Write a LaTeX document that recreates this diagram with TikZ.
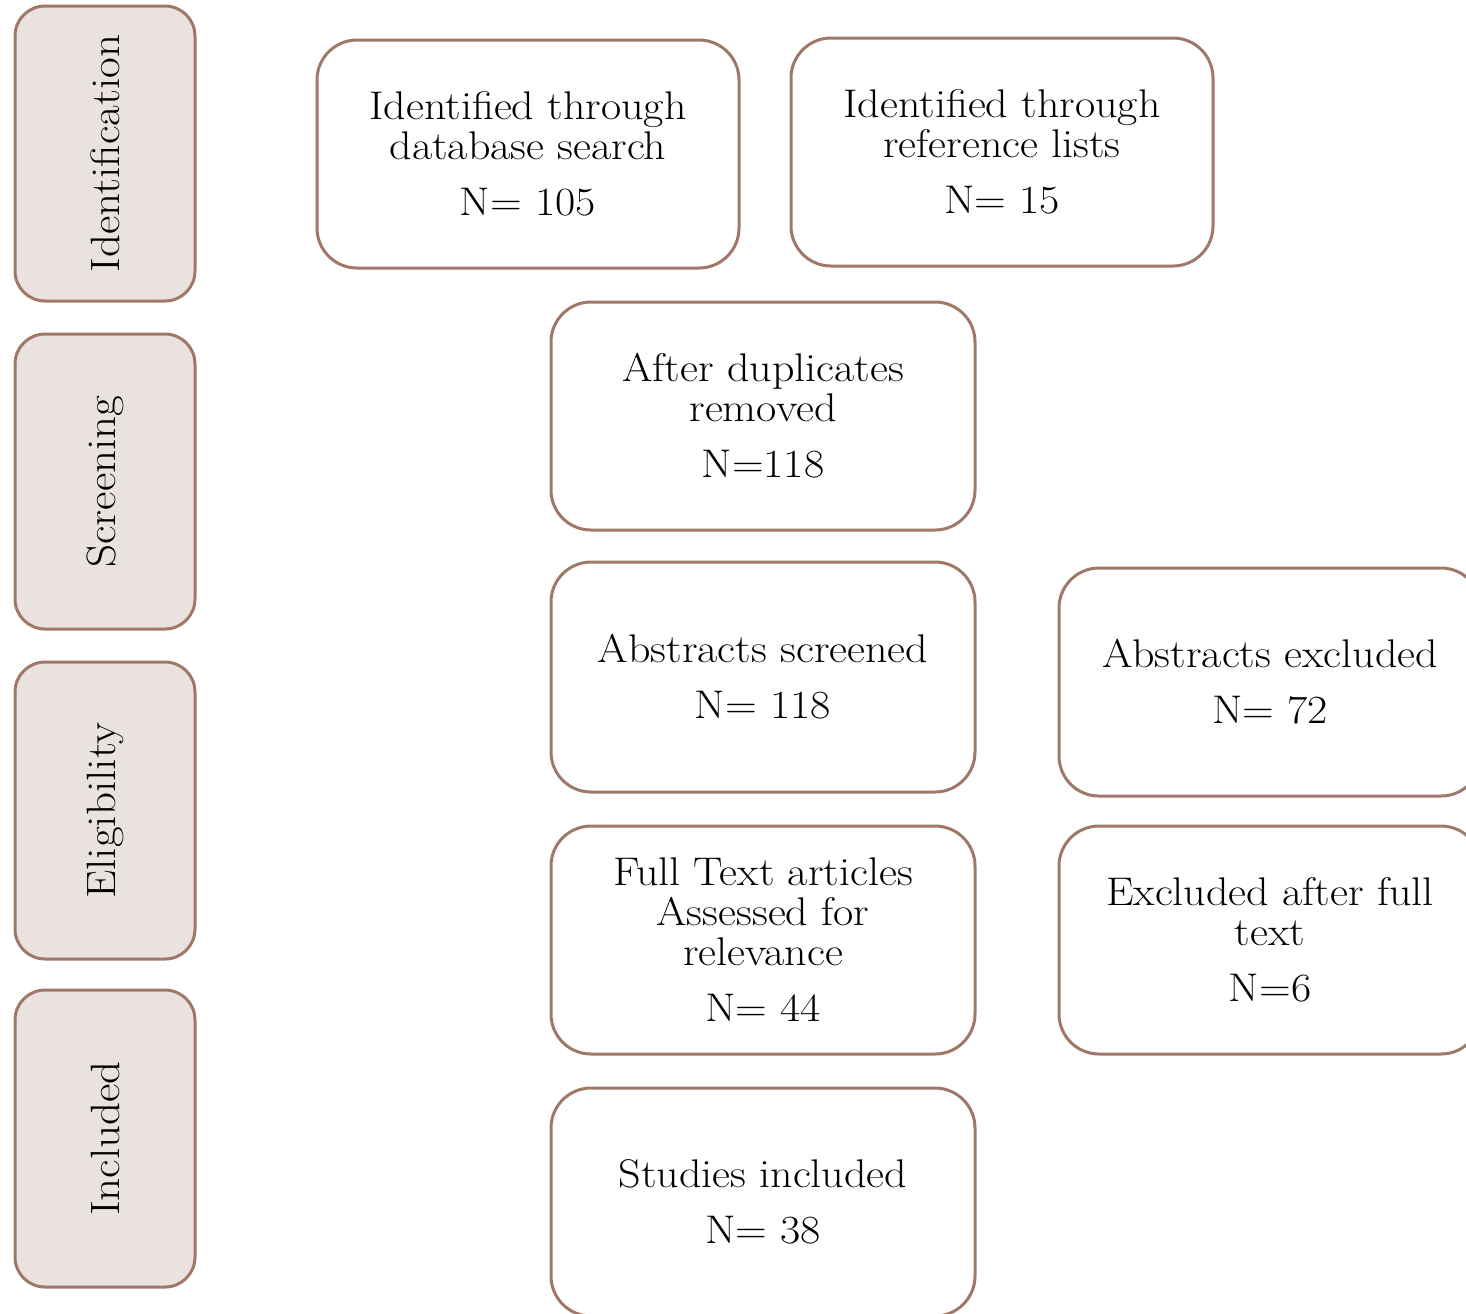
\documentclass[tikz,border=0pt]{standalone}
\usepackage{fontspec}
\setmainfont{Latin Modern Roman}[FakeStretch=1.1]
\usepackage{tikz}
\definecolor{brd}{RGB}{160,120,105}
\definecolor{sidefill}{RGB}{234,226,223}
\tikzset{
  box/.style={draw=brd, line width=1.5pt, fill=white, rounded corners=20pt,
    minimum width=211pt, minimum height=114pt, align=center, inner sep=0pt,
    font=\fontsize{20}{20}\selectfont},
  sidebox/.style={draw=brd, line width=1.5pt, fill=sidefill, rounded corners=15pt,
    minimum width=90pt, minimum height=147.5pt, inner sep=0pt},
  sidelabel/.style={rotate=90, font=\fontsize{20.5}{20.5}\selectfont, inner sep=0pt}
}
\begin{document}
\begin{tikzpicture}[x=0.5pt, y=-0.5pt]
\useasboundingbox (0,0) rectangle (1466,1313);
\clip (0,0) rectangle (1466,1313);
% side boxes
\node[sidebox] (s1) at (105,153.5) {};
\node[sidelabel] (t1) at (s1.center) {Identification};
\node[sidebox] (s2) at (105,481.5) {};
\node[sidelabel] (t2) at (s2.center) {Screening};
\node[sidebox, minimum height=148.5pt] (s3) at (105,810.5) {};
\node[sidelabel] (t3) at (s3.center) {Eligibility};
\node[sidebox, minimum height=148.5pt] (s4) at (105,1138.5) {};
\node[sidelabel] (t4) at (s4.center) {Included};
% main boxes
\node[box] (db) at (528,154) {Identified through\\database search\\[8pt]N= 105};
\node[box] (ref) at (1002,152) {Identified through\\reference lists\\[8pt]N= 15};
\node[box, minimum width=212pt] (dup) at (763,416) {After duplicates\\removed\\[8pt]N=118};
\node[box, minimum width=212pt, minimum height=115pt] (abs) at (763,677) {Abstracts screened\\[8pt]N= 118};
\node[box, minimum width=212pt] (full) at (763,940) {Full Text articles\\Assessed for\\relevance\\[8pt]N= 44};
\node[box, minimum width=212pt] (inc) at (763,1202) {Studies included\\[8pt]N= 38};
\node[box] (absx) at (1270,682) {Abstracts excluded\\[8pt]N= 72};
\node[box] (fullx) at (1270,940) {Excluded after full\\text\\[8pt]N=6};
\end{tikzpicture}
\end{document}
